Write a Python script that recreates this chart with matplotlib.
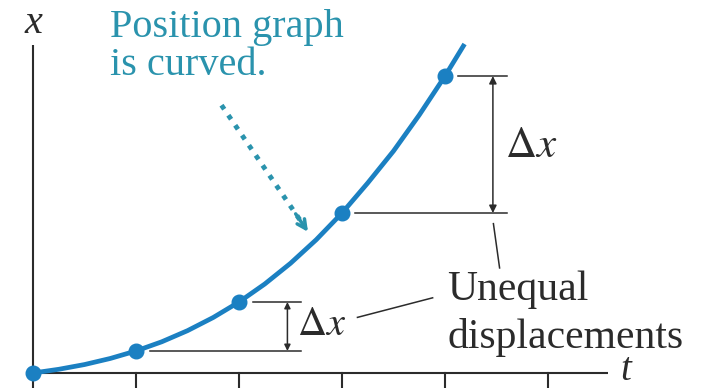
import numpy as np
import matplotlib
matplotlib.use("Agg")
import matplotlib.pyplot as plt

plt.rcParams["mathtext.fontset"] = "stix"

# position readings (t in ticks, x in same units as t spacing)
t_pts = [0, 1, 2, 3, 4]
x_pts = [0, 0.214, 0.689, 1.553, 2.883]
# curve
t_curve = [0, 0.25, 0.5, 0.75, 1, 1.25, 1.5, 1.75, 2, 2.25, 2.5, 2.75,
           3, 3.25, 3.5, 3.75, 4, 4.19]
x_curve = [0, 0.036, 0.082, 0.141, 0.214, 0.303, 0.411, 0.539, 0.689, 0.864,
           1.065, 1.294, 1.553, 1.845, 2.155, 2.505, 2.883, 3.194]
t_ticks = [0, 1, 2, 3, 4, 5]

blue = "#1b80c2"
teal = "#2a93ad"
ink = "#2b2b2b"
serif = ["Liberation Serif", "DejaVu Serif"]

fig = plt.figure(figsize=(7.03, 3.88), dpi=100)
ax = fig.add_axes([0, 0, 1, 1])
ax.set_xlim(-33/103, 670/103)
ax.set_ylim(-15/103, 373/103)
ax.axis("off")

# axes
ax.plot([0, 0], [0, 3.18], color=ink, lw=1.5, solid_capstyle="butt")
ax.plot([0, 5.58], [0, 0], color=ink, lw=1.5, solid_capstyle="butt")
for tk in t_ticks:
    ax.plot([tk, tk], [0, -0.15], color=ink, lw=1.5)
ax.text(0.0, 3.30, "x", family=serif, style="italic", fontsize=29, color=ink,
        ha="center", va="baseline")
ax.text(5.70, -0.07, "t", family=serif, style="italic", fontsize=28, color=ink,
        ha="left", va="baseline")

# curve and dots
ax.plot(t_curve, x_curve, color=blue, lw=3.4, solid_capstyle="butt", zorder=3)
ax.plot(t_pts, x_pts, "o", color=blue, ms=10.5, zorder=4)

# upper delta x
ax.plot([4.13, 4.6], [x_pts[4], x_pts[4]], color=ink, lw=1.1)
ax.plot([3.13, 4.6], [x_pts[3], x_pts[3]], color=ink, lw=1.1)
ax.annotate("", xy=(4.465, x_pts[4]), xytext=(4.465, x_pts[3]),
            arrowprops=dict(arrowstyle="<|-|>", mutation_scale=11, lw=1.1,
                            color=ink, shrinkA=0, shrinkB=0))
ax.text(4.58, 2.097, r"$\Delta x$", fontsize=31, color=ink,
        ha="left", va="baseline")

# lower delta x
ax.plot([1.14, 2.6], [x_pts[1], x_pts[1]], color=ink, lw=1.1)
ax.plot([2.14, 2.6], [x_pts[2], x_pts[2]], color=ink, lw=1.1)
ax.annotate("", xy=(2.47, x_pts[2]), xytext=(2.47, x_pts[1]),
            arrowprops=dict(arrowstyle="<|-|>", mutation_scale=9, lw=1.1,
                            color=ink, shrinkA=0, shrinkB=0))
ax.text(2.56, 0.369, r"$\Delta x$", fontsize=29, color=ink,
        ha="left", va="baseline")

# leader lines
ax.plot([4.47, 4.53], [1.45, 1.02], color=ink, lw=1.1)
ax.plot([3.15, 3.88], [0.54, 0.73], color=ink, lw=1.1)
ax.text(4.02, 0.709, "Unequal", family=serif, fontsize=30, color=ink,
        ha="left", va="baseline")
ax.text(4.02, 0.243, "displacements", family=serif, fontsize=30, color=ink,
        ha="left", va="baseline")

# callout
ax.text(0.748, 3.262, "Position graph", family=serif, fontsize=29,
        color=teal, ha="left", va="baseline")
ax.text(0.748, 2.893, "is curved.", family=serif, fontsize=29,
        color=teal, ha="left", va="baseline")
ax.plot([1.83, 2.63], [2.60, 1.43], color=teal, lw=3.5,
        ls=(0, (1.0, 1.5)))
ax.annotate("", xy=(2.67, 1.37), xytext=(2.55, 1.545),
            arrowprops=dict(arrowstyle="->", mutation_scale=16, lw=2.5,
                            color=teal, shrinkA=0, shrinkB=0))

fig.savefig("out.png", dpi=100)
